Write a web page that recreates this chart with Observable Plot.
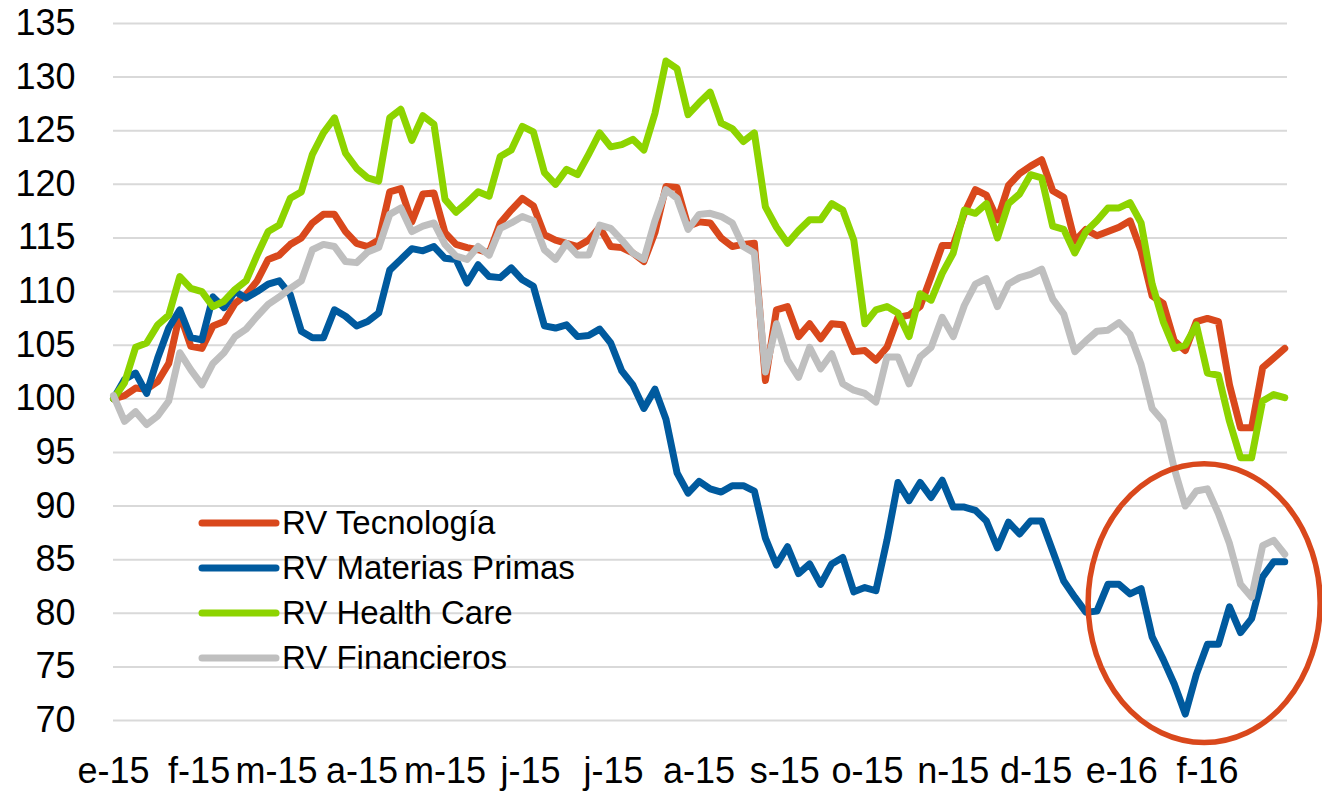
<!DOCTYPE html>
<html>
<head>
<meta charset="utf-8">
<script src="https://cdn.jsdelivr.net/npm/d3@7"></script>
<script src="https://cdn.jsdelivr.net/npm/@observablehq/plot@0.6"></script>
<style>
  html, body { margin: 0; padding: 0; background: #fff; }
  #wrap { position: relative; width: 1322px; height: 792px; font-family: "Liberation Sans", Arial, sans-serif; }
  #legend { position: absolute; left: 198px; top: 500px; }
  .item { display: flex; align-items: center; height: 45.2px; font-size: 33px; color: #000; white-space: nowrap; }
  .item svg { margin-right: 2px; }
</style>
</head>
<body>
<div id="wrap"><div id="legend"></div></div>
<script>
// ---- data (index, 100 = 1 Jan 2015), one value every 4 days ----
const startDate = "2015-01-01";
const stepDays = 4;

const seriesNames  = ["RV Tecnología", "RV Materias Primas", "RV Health Care", "RV Financieros"];
const seriesColors = ["#d9481c", "#005a9e", "#8dd400", "#bfbfbf"];

const tecnologia = [
  100.0,100.3,101.0,100.9,101.6,103.3,107.9,104.9,104.7,106.8,
  107.2,108.9,109.7,111.0,113.0,113.4,114.4,115.0,116.4,117.2,
  117.2,115.6,114.5,114.2,114.8,119.3,119.6,116.5,119.1,119.2,
  115.5,114.4,114.1,113.9,113.6,116.4,117.6,118.7,118.0,115.3,
  114.8,114.5,114.2,114.8,116.0,114.2,114.1,113.6,112.8,115.5,
  119.8,119.7,116.1,116.5,116.4,115.0,114.2,114.4,114.5,101.7,
  108.3,108.6,105.8,107.0,105.6,107.0,106.9,104.4,104.5,103.6,
  104.8,107.6,107.8,108.6,111.4,114.3,114.3,117.3,119.5,119.0,
  116.7,119.9,121.0,121.7,122.3,119.4,118.8,114.7,115.8,115.2,
  115.6,116.0,116.6,113.8,109.6,108.9,105.4,104.5,107.2,107.5,
  107.2,101.3,97.3,97.3,102.9,103.8,104.7
];

const materiasPrimas = [
  100.0,101.8,102.4,100.5,103.8,106.6,108.3,105.7,105.5,109.5,
  108.5,110.0,109.4,110.0,110.7,111.0,109.7,106.3,105.7,105.7,
  108.3,107.7,106.8,107.2,108.0,112.0,113.0,114.0,113.8,114.2,
  113.1,113.0,110.8,112.5,111.4,111.3,112.2,111.1,110.5,106.8,
  106.6,106.9,105.8,105.9,106.5,105.2,102.6,101.3,99.1,100.9,
  98.1,93.1,91.2,92.3,91.6,91.3,91.9,91.9,91.4,87.0,
  84.5,86.2,83.7,84.6,82.7,84.6,85.2,82.0,82.4,82.1,
  86.8,92.2,90.5,92.2,90.8,92.4,89.9,89.9,89.6,88.6,
  86.1,88.5,87.4,88.6,88.6,85.8,83.0,81.5,80.1,80.2,
  82.7,82.7,81.8,82.3,77.8,75.7,73.4,70.6,74.3,77.1,
  77.1,80.6,78.2,79.5,83.4,84.8,84.8
];

const healthCare = [
  100.0,101.5,104.8,105.2,106.9,107.8,111.4,110.3,110.0,108.6,
  109.1,110.2,111.0,113.4,115.6,116.2,118.7,119.3,122.8,124.8,
  126.2,122.9,121.5,120.6,120.3,126.2,127.0,124.1,126.4,125.6,
  118.6,117.4,118.3,119.3,118.9,122.6,123.2,125.4,124.9,121.1,
  120.0,121.4,120.9,122.8,124.8,123.5,123.7,124.2,123.2,126.6,
  131.5,130.8,126.5,127.6,128.6,125.7,125.2,124.0,124.8,117.9,
  116.0,114.5,115.7,116.7,116.7,118.2,117.6,114.8,107.0,108.3,
  108.6,108.0,105.8,109.8,109.2,111.7,113.6,117.6,117.3,118.2,
  115.0,118.2,119.1,120.9,120.6,116.1,115.8,113.6,115.6,116.6,
  117.8,117.8,118.3,116.4,110.7,107.2,104.7,105.0,106.9,102.4,
  102.2,97.9,94.5,94.5,99.8,100.4,100.1
];

const financieros = [
  100.3,97.9,98.8,97.6,98.4,99.8,104.3,102.7,101.3,103.3,
  104.3,105.8,106.5,107.7,108.8,109.5,110.3,111.0,113.9,114.4,
  114.2,112.8,112.7,113.7,114.1,117.2,117.8,115.6,116.1,116.4,
  114.4,113.3,113.0,114.2,113.4,115.9,116.4,117.0,116.6,113.9,
  113.0,114.5,113.4,113.4,116.2,115.9,114.8,113.6,113.0,116.6,
  119.5,118.7,115.8,117.2,117.3,117.0,116.4,114.2,113.6,102.5,
  107.0,103.6,102.0,104.8,102.8,104.2,101.4,100.8,100.5,99.7,
  103.9,103.9,101.4,103.9,104.8,107.6,105.8,108.7,110.7,111.2,
  108.6,110.7,111.3,111.6,112.1,109.3,107.9,104.4,105.4,106.3,
  106.4,107.1,106.0,103.2,99.1,97.9,93.5,90.0,91.4,91.6,
  89.3,86.5,82.7,81.5,86.3,86.8,85.5
];

const yTicks = [70, 75, 80, 85, 90, 95, 100, 105, 110, 115, 120, 125, 130, 135];
const monthStarts = ["2015-01-01","2015-02-01","2015-03-01","2015-04-01","2015-05-01","2015-06-01","2015-07-01",
                     "2015-08-01","2015-09-01","2015-10-01","2015-11-01","2015-12-01","2016-01-01","2016-02-01"];
const monthLabels = ["e-15","f-15","m-15","a-15","m-15","j-15","j-15","a-15","s-15","o-15","n-15","d-15","e-16","f-16"];
const domainEnd = "2016-03-01";

// annotation ellipse (data units)
const ellipseCenter = { date: "2016-01-31", value: 80.9 };
const ellipseRadius = { days: 42, value: 13 };
const ellipseColor = "#d9481c";

// ---- build ----
const toDate = s => new Date(s + "T00:00:00Z");
const start = toDate(startDate);
const dates = tecnologia.map((_, i) => d3.utcDay.offset(start, i * stepDays));
const allSeries = [tecnologia, materiasPrimas, healthCare, financieros];
const tickDates = monthStarts.map(toDate);
const labelByTime = new Map(tickDates.map((d, i) => [+d, monthLabels[i]]));

const lineMarks = allSeries.map((vals, k) =>
  Plot.line(vals.map((v, i) => ({ date: dates[i], value: v })), {
    x: "date", y: "value",
    stroke: seriesColors[k], strokeWidth: 7,
    strokeLinejoin: "round", strokeLinecap: "round"
  })
);

const plot = Plot.plot({
  width: 1322, height: 792,
  marginLeft: 113, marginRight: 35, marginTop: 23, marginBottom: 72,
  style: { fontFamily: "'Liberation Sans', Arial, sans-serif", fontSize: "36px", color: "#000", background: "#fff" },
  x: { type: "utc", domain: [start, toDate(domainEnd)], label: null },
  y: { domain: [70, 135], label: null },
  marks: [
    Plot.gridY(yTicks, { stroke: "#d9d9d9", strokeOpacity: 1, strokeWidth: 2 }),
    Plot.axisY(yTicks, { tickSize: 0, tickPadding: 38, fontSize: 36, fill: "#000", label: null }),
    Plot.axisX(tickDates, { tickSize: 0, tickPadding: 37, fontSize: 36, fill: "#000", label: null,
      tickFormat: d => labelByTime.get(+d) }),
    ...lineMarks
  ]
});

// ellipse through the plot's own scales
const xs = plot.scale("x"), ys = plot.scale("y");
const c = toDate(ellipseCenter.date);
const cx = xs.apply(c);
const rx = xs.apply(d3.utcDay.offset(c, ellipseRadius.days)) - cx;
const cy = ys.apply(ellipseCenter.value);
const ry = ys.apply(ellipseCenter.value - ellipseRadius.value) - cy;
d3.select(plot).append("ellipse")
  .attr("cx", cx).attr("cy", cy).attr("rx", rx).attr("ry", ry)
  .attr("fill", "none").attr("stroke", ellipseColor).attr("stroke-width", 5.5);

document.getElementById("wrap").prepend(plot);

// legend (inside the plot area, no background)
const legend = d3.select("#legend");
seriesNames.forEach((name, k) => {
  const item = legend.append("div").attr("class", "item");
  const sw = item.append("svg").attr("width", 82).attr("height", 12);
  sw.append("line").attr("x1", 4).attr("x2", 78).attr("y1", 6).attr("y2", 6)
    .attr("stroke", seriesColors[k]).attr("stroke-width", 7).attr("stroke-linecap", "round");
  item.append("span").text(name);
});
</script>
</body>
</html>
